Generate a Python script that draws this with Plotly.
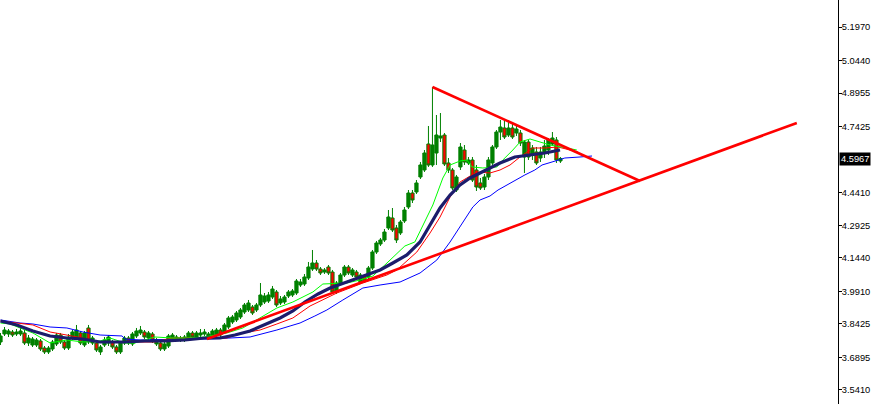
import plotly.graph_objects as go

# ---- candle data (one candle per bar index) ----
opens = [3.7600,3.7965,3.7965,3.8056,3.7965,3.7965,3.8011,3.7554,3.7463,3.7463,
         3.7646,3.7326,3.7144,3.7281,3.7509,3.7919,3.7600,3.7326,3.7782,3.7782,
         3.8011,3.7463,3.8239,3.7554,3.7554,3.7144,3.7463,3.7554,3.7600,3.7372,
         3.7144,3.7554,3.7782,3.7509,3.7874,3.8011,3.8056,3.7782,3.7965,3.7509,
         3.7554,3.7281,3.7417,3.7737,3.7737,3.7691,3.7691,3.7737,3.8011,3.7828,
         3.7919,3.7965,3.7782,3.7828,3.7919,3.8147,3.8056,3.8284,3.8512,3.8604,
         3.8740,3.8968,3.9060,3.9197,3.9060,3.9288,3.9425,3.9470,3.9653,3.9881,
         3.9379,3.9425,3.9698,3.9744,3.9835,4.0200,4.0246,4.0519,4.0930,4.1204,
         4.0930,4.0793,4.1021,4.0793,3.9881,4.0291,4.0656,4.1021,4.0656,4.0793,
         4.0337,4.0611,4.0565,4.0976,4.1706,4.2071,4.2253,4.2801,4.3257,4.2801,
         4.2573,4.3120,4.3759,4.4397,4.4443,4.5127,4.5447,4.6633,4.5675,4.6222,
         4.6906,4.7043,4.5766,4.5447,4.4534,4.5584,4.6359,4.5766,4.5903,4.5447,
         4.4854,4.4671,4.5127,4.5766,4.6496,4.7180,4.7363,4.7043,4.7363,4.7135,
         4.7135,4.6040,4.6724,4.6131,4.6268,4.5994,4.6268,4.6359,4.6633,4.6815,
         4.5857]
highs = [3.8011,3.8284,3.8193,3.8147,3.8193,3.8239,3.8147,3.7919,3.7828,3.7782,
         3.7737,3.7417,3.7417,3.7691,3.8011,3.8011,3.7691,3.7965,3.8147,3.8376,
         3.8102,3.8102,3.8376,3.7874,3.7646,3.7463,3.7828,3.7919,3.7691,3.7463,
         3.7646,3.7874,3.7874,3.8056,3.8239,3.8330,3.8147,3.8102,3.8056,3.7782,
         3.7646,3.7600,3.7965,3.8011,3.7919,3.7874,3.7919,3.8102,3.8102,3.8102,
         3.8193,3.8193,3.8056,3.8193,3.8239,3.8239,3.8467,3.8786,3.8832,3.9014,
         3.9151,3.9379,3.9516,3.9288,3.9379,4.0291,3.9835,3.9881,4.0155,3.9972,
         3.9698,3.9744,3.9972,4.0018,4.0474,4.0474,4.0702,4.1250,4.1797,4.1341,
         4.1021,4.0976,4.1113,4.0885,4.0383,4.0748,4.1113,4.1113,4.0976,4.0885,
         4.0748,4.0702,4.1067,4.1797,4.2208,4.2345,4.2755,4.3622,4.3713,4.2937,
         4.3166,4.3759,4.4534,4.4534,4.4990,4.5812,4.6359,4.7454,4.9233,4.7956,
         4.8047,4.7135,4.5994,4.5538,4.5219,4.6678,4.6587,4.6040,4.6040,4.5675,
         4.5082,4.5264,4.6040,4.6587,4.7271,4.7728,4.7728,4.7728,4.7636,4.7500,
         4.7271,4.6815,4.6815,4.6587,4.6496,4.6496,4.6815,4.6906,4.7180,4.6952,
         4.6040]
lows = [3.7463,3.7874,3.7828,3.7828,3.7874,3.7874,3.7463,3.7417,3.7372,3.7372,
        3.7189,3.7052,3.7052,3.7189,3.7417,3.7509,3.7235,3.7235,3.7691,3.7691,
        3.7463,3.7372,3.7509,3.7463,3.7144,3.7007,3.7372,3.7417,3.7281,3.7052,
        3.7052,3.7463,3.7463,3.7417,3.7782,3.7919,3.7737,3.7691,3.7554,3.7417,
        3.7189,3.7189,3.7326,3.7646,3.7646,3.7600,3.7600,3.7646,3.7737,3.7737,
        3.7828,3.7874,3.7691,3.7737,3.7828,3.7828,3.7965,3.8193,3.8421,3.8512,
        3.8649,3.8877,3.8968,3.8832,3.8968,3.9197,3.9333,3.9379,3.9562,3.9197,
        3.9288,3.9333,3.9607,3.9653,3.9744,4.0109,4.0155,4.0428,4.0839,4.0839,
        4.0656,4.0702,4.0656,3.9790,3.9790,4.0200,4.0565,4.0656,4.0565,4.0474,
        4.0246,4.0291,4.0474,4.0885,4.1615,4.1979,4.2162,4.2709,4.2618,4.2116,
        4.2481,4.3029,4.3667,4.3941,4.4352,4.5036,4.5355,4.5584,4.5584,4.5675,
        4.6724,4.5629,4.5310,4.4534,4.4443,4.5447,4.5675,4.5675,4.4899,4.4489,
        4.4534,4.4534,4.4990,4.5675,4.6404,4.6815,4.6861,4.6952,4.6861,4.6998,
        4.6541,4.5310,4.5903,4.5903,4.5675,4.5812,4.5994,4.6131,4.6541,4.5766,
        4.5766]
closes = [3.7874,3.8147,3.8102,3.7919,3.8056,3.8102,3.7554,3.7782,3.7737,3.7691,
          3.7281,3.7144,3.7326,3.7600,3.7919,3.7600,3.7326,3.7828,3.8056,3.8147,
          3.7554,3.8011,3.7600,3.7782,3.7235,3.7372,3.7691,3.7828,3.7372,3.7144,
          3.7554,3.7782,3.7554,3.7965,3.8102,3.8147,3.7828,3.8011,3.7646,3.7691,
          3.7281,3.7509,3.7874,3.7919,3.7828,3.7782,3.7828,3.8011,3.7828,3.8011,
          3.8011,3.8056,3.7965,3.8102,3.8147,3.7919,3.8376,3.8695,3.8740,3.8923,
          3.9060,3.9288,3.9379,3.8923,3.9288,3.9744,3.9698,3.9744,4.0018,3.9288,
          3.9562,3.9653,3.9881,3.9927,4.0383,4.0337,4.0565,4.1021,4.1204,4.0930,
          4.0748,4.0885,4.0748,3.9881,4.0291,4.0656,4.1021,4.0748,4.0885,4.0565,
          4.0656,4.0383,4.0976,4.1706,4.2116,4.2253,4.2618,4.3302,4.2709,4.2253,
          4.3074,4.3622,4.4397,4.4078,4.4854,4.5675,4.6222,4.5675,4.6587,4.7043,
          4.6998,4.5720,4.5447,4.4626,4.5127,4.6496,4.5812,4.5903,4.4990,4.4671,
          4.4626,4.5127,4.5903,4.6496,4.7180,4.7408,4.6952,4.7363,4.6952,4.7317,
          4.6678,4.6724,4.6040,4.6450,4.5766,4.6268,4.6541,4.6815,4.6906,4.5903,
          4.5967]
bar_index = list(range(len(closes)))

# ---- indicator lines (bar index, price) ----
ma_navy_x = [0,4.1,8.1,12.4,16.6,20.6,24.9,31.1,36.1,41.1,46.1,51.1,54.9,58.6,62.4,66.1,69.9,
             73.1,76.1,79.4,82.4,86.6,91.6,94.9,98.1,101.6,104.9,107.4,109.9,112.4,114.9,
             117.4,119.9,122.4,124.9,128.6,132.4,136.1,139.9]
ma_navy_y = [3.8558,3.8376,3.8102,3.7874,3.7782,3.7737,3.7600,3.7600,3.7646,3.7646,3.7691,
             3.7782,3.7782,3.7919,3.8102,3.8376,3.8695,3.9014,3.9425,3.9790,4.0063,4.0337,
             4.0656,4.0885,4.1204,4.1569,4.2162,4.2937,4.3713,4.4306,4.4763,4.5082,4.5310,
             4.5538,4.5766,4.6040,4.6131,4.6222,4.6359]

lips_x = [0,2.4,4.9,8.1,12.4,16.6,20.6,24.9,27.4,31.1,33.6,38.6,42.9,46.9,51.1,56.6,60.6,
          64.9,69.1,73.1,78.1,80.6,86.6,89.9,93.1,96.1,98.6,101.1,103.6,105.6,108.1,110.6,
          112.4,114.9,116.6,117.9,120.6,124.1,125.6,128.1,129.9,132.4,134.9,137.4,141.6,144.1]
lips_y = [3.8467,3.8421,3.8239,3.8011,3.7554,3.7691,3.7600,3.7646,3.7782,3.7554,3.7554,
          3.7828,3.7782,3.7782,3.7828,3.8011,3.8239,3.8695,3.9151,3.9425,3.9881,4.0246,
          4.0291,4.0428,4.0611,4.1113,4.1569,4.1979,4.2162,4.2937,4.3850,4.5082,4.5675,
          4.5857,4.5903,4.5584,4.5538,4.5584,4.5903,4.6359,4.6724,4.6861,4.6724,4.6587,
          4.6450,4.6359]

teeth_x = [0,4.9,8.1,12.4,16.6,20.6,24.9,31.1,38.6,42.9,47.9,51.1,56.6,60.6,64.9,69.1,73.1,
           77.4,84.1,90.6,96.6,99.1,104.1,107.4,109.9,112.4,114.9,116.6,119.1,122.4,124.9,
           127.4,129.9,133.1,136.1,139.4,144.4]
teeth_y = [3.8558,3.8467,3.8376,3.8056,3.7919,3.7782,3.7600,3.7600,3.7600,3.7782,3.7782,
           3.7782,3.7782,3.8011,3.8147,3.8421,3.8695,3.9242,3.9835,4.0291,4.0656,4.0885,
           4.1706,4.2573,4.3302,4.4215,4.4899,4.5082,4.5355,4.5310,4.5447,4.5675,4.6040,
           4.6450,4.6450,4.6496,4.6268]

jaw_x = [0,4.9,8.1,12.4,16.6,20.6,24.9,30.4,31.1,34.9,46.9,52.4,62.4,65.6,69.1,72.4,74.9,
         78.6,81.6,85.6,90.6,94.9,99.9,104.9,109.1,112.4,115.6,118.1,119.9,122.4,124.4,
         127.9,131.1,133.6,135.4,137.9,141.1,144.9,147.9]
jaw_y = [3.8604,3.8467,3.8421,3.8284,3.8239,3.8056,3.7919,3.7874,3.7737,3.7691,3.7737,
         3.7737,3.7828,3.7965,3.8147,3.8330,3.8467,3.8786,3.9060,3.9516,4.0063,4.0200,
         4.0337,4.0748,4.1341,4.2162,4.3074,4.3759,4.4078,4.4261,4.4534,4.4899,4.5219,
         4.5447,4.5675,4.5812,4.5994,4.6040,4.6085]

# ---- hand-drawn trend lines (bar index, price) ----
support_x = [51.6, 199.1]
support_y = [3.7737, 4.7591]
resist_x = [108, 159.9]
resist_y = [4.9233, 4.4945]

# ---- price axis ----
tick_vals = [5.1970, 5.0440, 4.8955, 4.7425, 4.4410, 4.2925, 4.1440, 3.9910, 3.8425, 3.6895, 3.5410]
tick_text = ["%.4f" % v for v in tick_vals]
last_price = 4.5967

GREEN = "#008000"
fig = go.Figure()
fig.add_trace(go.Candlestick(
    x=bar_index, open=opens, high=highs, low=lows, close=closes,
    increasing=dict(fillcolor=GREEN, line=dict(color=GREEN, width=1)),
    decreasing=dict(fillcolor="#ff0000", line=dict(color=GREEN, width=1)),
    whiskerwidth=0, showlegend=False, hoverinfo="skip"))

for xs, ys, col, w in [(jaw_x, jaw_y, "#0000ff", 1), (teeth_x, teeth_y, "#ff0000", 1),
                       (lips_x, lips_y, "#00ff00", 1), (ma_navy_x, ma_navy_y, "#1c1c6c", 3.2)]:
    fig.add_trace(go.Scatter(x=xs, y=ys, mode="lines", line=dict(color=col, width=w),
                             showlegend=False, hoverinfo="skip"))

for xs, ys in [(support_x, support_y), (resist_x, resist_y)]:
    fig.add_trace(go.Scatter(x=xs, y=ys, mode="lines", line=dict(color="#ff0000", width=2.6),
                             showlegend=False, hoverinfo="skip"))

fig.add_annotation(xref="paper", yref="y", x=1, y=last_price, xanchor="left", yanchor="middle",
                   text="%.4f" % last_price, showarrow=False, bgcolor="#000000",
                   font=dict(color="#ffffff", size=9.3, family="Liberation Sans"),
                   borderpad=1, xshift=1)

fig.update_layout(
    width=871, height=404,
    margin=dict(l=0, r=33, t=0, b=0),
    paper_bgcolor="#ffffff", plot_bgcolor="#ffffff",
    font=dict(family="Liberation Sans", size=9.3, color="#000000"),
    boxgap=0.2, boxgroupgap=0,
    xaxis=dict(range=[-0.125, 209.4], visible=False, rangeslider=dict(visible=False),
               showgrid=False, zeroline=False),
    yaxis=dict(range=[3.4771, 5.3202], side="right", showgrid=False, zeroline=False,
               showline=True, linecolor="#000000", linewidth=1,
               ticks="outside", ticklen=3, tickcolor="#000000", tickwidth=1,
               ticklabelstandoff=-2,
               tickvals=tick_vals, ticktext=tick_text),
)
fig.write_html("out.html", config={"displayModeBar": False},
               post_script="document.body.style.margin='0';document.body.style.overflow='hidden';")
